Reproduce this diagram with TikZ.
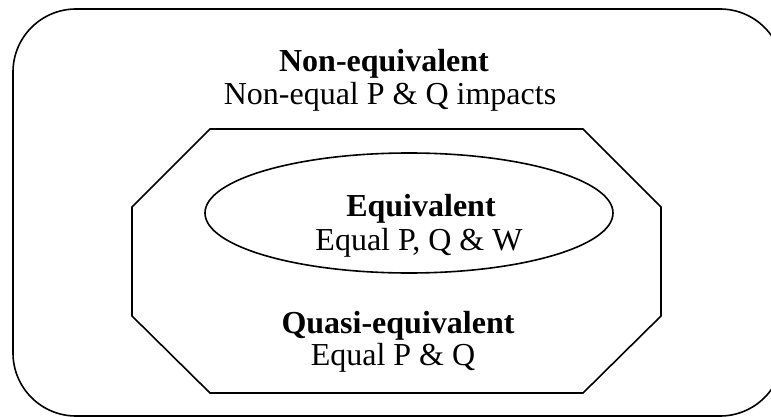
\documentclass[tikz,border=0pt]{standalone}
\usepackage{fontspec}
\setmainfont{Liberation Serif}
\usetikzlibrary{shapes.geometric}

\begin{document}
\begin{tikzpicture}[x=1pt, y=-1pt, line width=1.6pt,
    title/.style={font=\fontsize{32}{38}\selectfont\bfseries, inner sep=0pt, anchor=base},
    desc/.style={font=\fontsize{32}{38}\selectfont, inner sep=0pt, anchor=base}]
  \useasboundingbox (0,0) rectangle (771,417);
  \clip (0,0) rectangle (771,417);

  % Shapes
  \draw[rounded corners=63pt] (13,9) rectangle (783,416);
  \draw (210,129) -- (583,129) -- (661,207) -- (661,316) -- (583,393)
        -- (210,393) -- (132,316) -- (132,207) -- cycle;
  \node[ellipse, draw, minimum width=408pt, minimum height=120pt] (eqv) at (409,213) {};

  % Labels
  \node[title] (noneq)     at (384,72)  {Non-equivalent};
  \node[desc]  (noneqtxt)  at (390,105) {Non-equal P \& Q impacts};
  \node[title] (equiv)     at (421,216) {Equivalent};
  \node[desc]  (equivtxt)  at (419,250) {Equal P, Q \& W};
  \node[title] (quasi)     at (398,333) {Quasi-equivalent};
  \node[desc]  (quasitxt)  at (393,365) {Equal P \& Q};
\end{tikzpicture}
\end{document}
